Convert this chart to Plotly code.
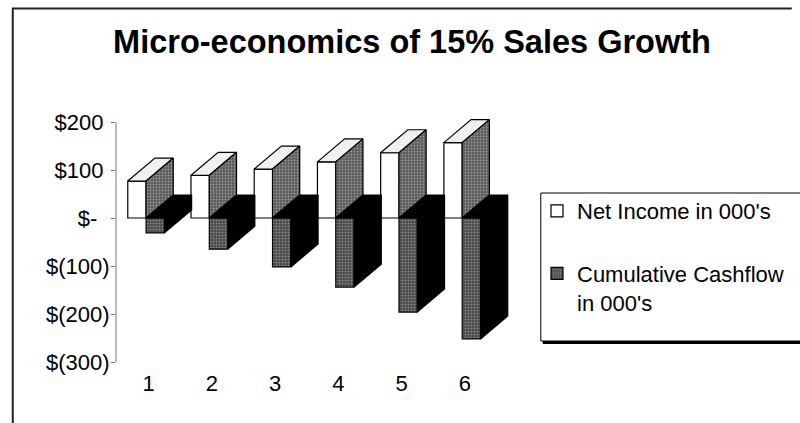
import plotly.graph_objects as go

# ---- data ----
periods = [1, 2, 3, 4, 5, 6]
net_income = [77, 89, 102, 117, 136, 157]
cum_cashflow = [-31, -65, -102, -144, -196, -252]
y_tickvals = [200, 100, 0, -100, -200, -300]
y_ticktext = ["$200\u00a0", "$100\u00a0", "$-\u00a0\u00a0", "$(100)", "$(200)", "$(300)"]
title_text = "Micro-economics of 15% Sales Growth"
name_ni = "Net Income in 000's"
name_cf = "Cumulative Cashflow<br>in 000's"

# ---- geometry / styling ----
W, H = 800, 423
ML, MR, MT, MB = 116, 270, 114, 61
PW, PH = W - ML - MR, H - MT - MB
XMIN, XMAX = 0.484, 6.953
YMIN, YMAX = -300, 216.7
BAR_W = 0.29
OFF_NI = -0.33
OFF_CF = OFF_NI + BAR_W
DX = 0.43          # depth offset in x units
DY = 47.9          # depth offset in y units
FONT = "Arial, Liberation Sans, sans-serif"


def px_x(v):
    return (v - ML) / PW


def px_y(v):
    return (H - MB - v) / PH


fig = go.Figure()

fig.add_trace(go.Bar(
    x=periods, y=net_income, offset=OFF_NI, width=BAR_W, name=name_ni,
    legendgroup="a",
    marker=dict(color="white", line=dict(color="black", width=1.2)),
))
fig.add_trace(go.Bar(
    x=periods, y=cum_cashflow, offset=OFF_CF, width=BAR_W, name=name_cf,
    legendgroup="b",
    marker=dict(color="#4e4e4e", line=dict(color="black", width=1.2),
                pattern=dict(shape=".", fgcolor="#d0d0d0", size=3, solidity=0.25,
                             fillmode="overlay")),
))

# 3-D faces built from the data
top_x, top_y, side_x, side_y, blk_x, blk_y = [], [], [], [], [], []
for k, p, n in zip(periods, net_income, cum_cashflow):
    xl, xm = k + OFF_NI, k + OFF_NI + BAR_W
    xr = xm + BAR_W
    top_x += [xl, xm, xm + DX, xl + DX, xl, None]
    top_y += [p, p, p + DY, p + DY, p, None]
    side_x += [xm, xm, xm + DX, xm + DX, xm, None]
    side_y += [0, p, p + DY, DY, 0, None]
    blk_x += [xm, xr, xr + DX, xm + DX, xm, None]
    blk_y += [0, 0, DY, DY, 0, None]
    blk_x += [xr, xr, xr + DX, xr + DX, xr, None]
    blk_y += [n, 0, DY, n + DY, n, None]

line_style = dict(color="black", width=1.2)
fig.add_trace(go.Scatter(x=top_x, y=top_y, mode="lines", fill="toself",
                         fillcolor="#f0f0f0", line=line_style, showlegend=False,
                         hoverinfo="skip"))
fig.add_trace(go.Scatter(x=side_x, y=side_y, mode="lines", fill="toself",
                         fillcolor="#5a5a5a", line=line_style, showlegend=False,
                         fillpattern=dict(shape=".", fgcolor="#d8d8d8", size=3,
                                          solidity=0.28, fillmode="overlay"),
                         hoverinfo="skip"))
fig.add_trace(go.Scatter(x=blk_x, y=blk_y, mode="lines", fill="toself",
                         fillcolor="black", line=line_style, showlegend=False,
                         hoverinfo="skip"))

fig.update_layout(
    width=W, height=H, margin=dict(l=ML, r=MR, t=MT, b=MB),
    paper_bgcolor="white", plot_bgcolor="white",
    font=dict(family=FONT, size=22, color="black"),
    title=dict(text=title_text, x=412 / W, xref="container", xanchor="center",
               y=1 - 42 / H, yref="container", yanchor="middle",
               font=dict(size=32.5, weight="bold", family=FONT)),
    showlegend=True,
    legend=dict(xref="container", yref="container", x=537 / W, y=1 - 190 / H,
                xanchor="left", yanchor="top", borderwidth=0,
                bgcolor="rgba(0,0,0,0)", tracegroupgap=31, valign="top",
                font=dict(size=22, family=FONT)),
    xaxis=dict(range=[XMIN, XMAX], tickvals=periods, ticktext=[str(p) for p in periods],
               showline=False, showgrid=False, zeroline=False, ticks="",
               ticklabelstandoff=6, fixedrange=True),
    yaxis=dict(range=[YMIN, YMAX], tickvals=y_tickvals, ticktext=y_ticktext,
               showline=False, showgrid=False, zeroline=False, ticks="outside",
               ticklen=4, tickcolor="#777", tickwidth=1, ticklabelstandoff=-3,
               fixedrange=True),
    shapes=[
        # value axis line
        dict(type="line", xref="paper", yref="y", x0=0, x1=0, y0=-300, y1=200,
             line=dict(color="#777", width=1)),
        # outer chart border (top and left edges)
        dict(type="path", xref="paper", yref="paper",
             path=(f"M {px_x(800)} {px_y(8.5)} L {px_x(11.5)} {px_y(8.5)} "
                   f"L {px_x(11.5)} {px_y(423)}"),
             line=dict(color="#222", width=2)),
        # legend box with shadow
        dict(type="rect", xref="paper", yref="paper", x0=px_x(546), x1=px_x(810),
             y0=px_y(341), y1=px_y(193), line=dict(color="black", width=1),
             layer="below"),
        dict(type="line", xref="paper", yref="paper", x0=px_x(548), x1=px_x(810),
             y0=px_y(342.5), y1=px_y(342.5), line=dict(color="black", width=3)),
    ],
)

fig.write_html("out.html")
